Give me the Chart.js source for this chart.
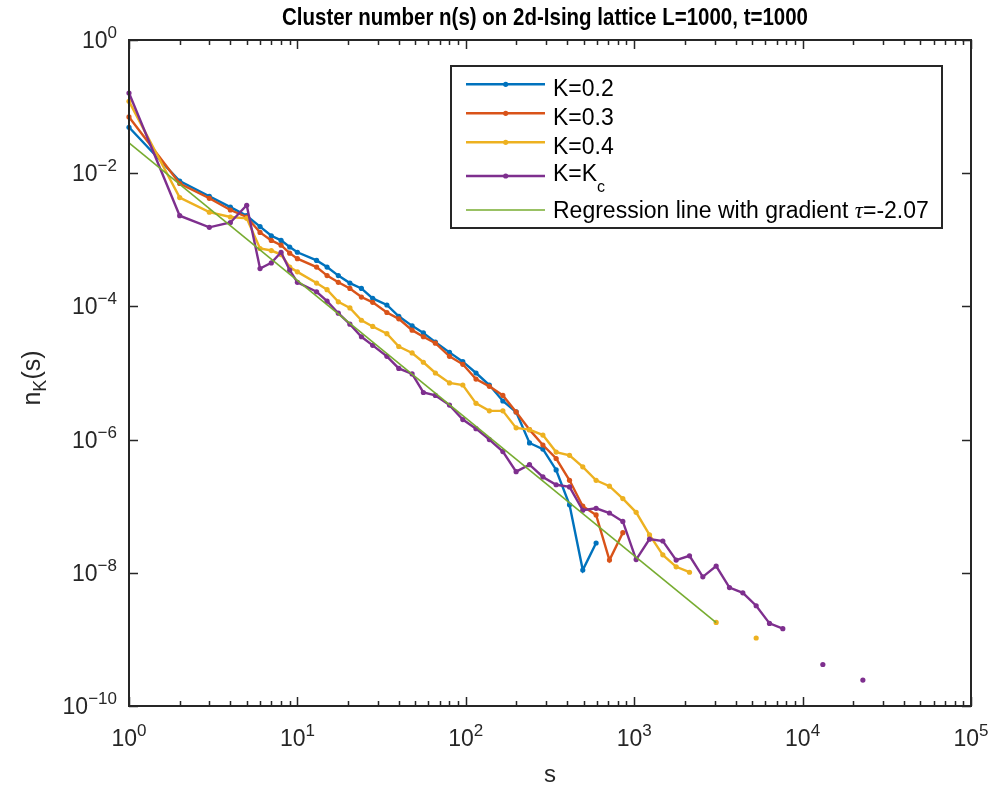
<!DOCTYPE html>
<html>
<head>
<meta charset="utf-8">
<script src="https://cdn.jsdelivr.net/npm/chart.js@4.4.0/dist/chart.umd.min.js"></script>
<style>
  html, body { margin: 0; padding: 0; background: #fff; }
  #wrap { width: 994px; height: 793px; }
</style>
</head>
<body>
<div id="wrap"><canvas id="clusterChart" width="994" height="793"></canvas></div>
<script>
// cluster sizes s (bin positions)
const sizes = [1, 2, 3, 4, 5, 6, 7, 8, 9, 10, 13, 15, 17.5, 20.5, 24, 28, 34, 40, 48, 56,
  66, 80, 96, 115, 138, 166, 199, 239, 287, 344, 413, 495, 594, 713, 856, 1027, 1233,
  1479, 1775, 2130, 2556, 3067, 3680, 4416, 5300, 6360, 7630, 9160, 10990, 13190,
  15830, 19000, 22800];

// n_K(s) for each coupling, null = no cluster of that size
const nK02 = [4.9e-2, 7.6e-3, 4.5e-3, 3.1e-3, 2.3e-3, 1.58e-3, 1.15e-3, 9.8e-4, 7.8e-4, 6.5e-4,
  4.9e-4, 3.9e-4, 2.9e-4, 2.24e-4, 1.86e-4, 1.32e-4, 1.05e-4, 7.1e-5, 5.1e-5, 4.0e-5,
  2.9e-5, 2.04e-5, 1.48e-5, 1.0e-5, 6.6e-6, 3.8e-6, 2.6e-6, 8.9e-7, 7.2e-7, 3.5e-7,
  1.05e-7, 1.1e-8, 2.8e-8];
const nK03 = [7.0e-2, 7.0e-3, 4.2e-3, 2.8e-3, 2.2e-3, 1.29e-3, 9.8e-4, 8.3e-4, 6.3e-4, 5.2e-4,
  3.9e-4, 2.9e-4, 2.3e-4, 1.86e-4, 1.38e-4, 1.15e-4, 8.1e-5, 6.5e-5, 4.4e-5, 3.5e-5,
  2.8e-5, 1.78e-5, 1.35e-5, 8.1e-6, 6.3e-6, 4.6e-6, 2.6e-6, 1.41e-6, 8.3e-7, 5.2e-7,
  2.45e-7, 1.0e-7, 7.4e-8, 1.55e-8, 4.0e-8];
const nK04 = [1.2e-1, 4.3e-3, 2.6e-3, 2.2e-3, 2.1e-3, 7.4e-4, 6.9e-4, 6.0e-4, 3.9e-4, 3.3e-4,
  2.24e-4, 1.78e-4, 1.17e-4, 9.5e-5, 6.2e-5, 5.0e-5, 3.9e-5, 2.5e-5, 2.0e-5, 1.45e-5,
  1.0e-5, 7.1e-6, 6.6e-6, 3.5e-6, 2.7e-6, 2.7e-6, 1.5e-6, 1.41e-6, 1.17e-6, 6.5e-7,
  5.8e-7, 3.9e-7, 2.45e-7, 2.0e-7, 1.3e-7, 8.1e-8, 3.7e-8, 1.86e-8, 1.23e-8, 1.02e-8,
  null, 1.8e-9, null, null, 1.05e-9];
const nKc = [1.6e-1, 2.3e-3, 1.54e-3, 1.82e-3, 3.3e-3, 3.7e-4, 4.5e-4, 6.5e-4, 3.5e-4, 2.3e-4,
  1.66e-4, 1.2e-4, 7.9e-5, 5.4e-5, 3.5e-5, 2.6e-5, 1.78e-5, 1.17e-5, 9.7e-6, 5.1e-6,
  4.6e-6, 3.3e-6, 2.0e-6, 1.46e-6, 1.0e-6, 6.6e-7, 3.3e-7, 4.2e-7, 2.75e-7, 2.1e-7,
  1.95e-7, 8.7e-8, 9.3e-8, 7.9e-8, 5.9e-8, 1.58e-8, 3.2e-8, 3.0e-8, 1.55e-8, 1.8e-8,
  8.7e-9, 1.26e-8, 6.0e-9, 5.0e-9, 3.2e-9, 1.74e-9, 1.45e-9, null, null, 4.2e-10,
  null, null, 2.45e-10];

// regression line end points
const regS = [1, 3067];
const regN = [2.85e-2, 1.78e-9];

const seriesLabels = ["K=0.2", "K=0.3", "K=0.4", "K=K_c", "Regression line with gradient"];
const seriesColors = ["#0072BD", "#D95319", "#EDB120", "#7E2F8E", "#77AC30"];
const xTickExps = [0, 1, 2, 3, 4, 5];
const yTickExps = [0, -2, -4, -6, -8, -10];

const AXIS = "#262626";
const FONT = "'Liberation Sans', Arial, sans-serif";

const pts = (xs, ys) => xs.map((s, i) => ({ x: s, y: ys[i] === undefined ? null : ys[i] }));

const lineSet = (i, data) => ({
  label: seriesLabels[i],
  data: data,
  borderColor: seriesColors[i],
  backgroundColor: seriesColors[i],
  borderWidth: 2.4,
  pointRadius: 2.6,
  pointBorderWidth: 0,
  pointHoverRadius: 0,
  tension: 0,
  spanGaps: false,
  clip: 8,
  order: 5 - i
});

function drawPow(ctx, exp, x, y, align) {
  // "10" with raised exponent, y = baseline of "10"
  ctx.font = "23px " + FONT;
  const wb = ctx.measureText("10").width;
  ctx.font = "17px " + FONT;
  const e = String(exp).replace("-", "\u2212");
  const we = ctx.measureText(e).width;
  const w = wb + we;
  let x0 = x;
  if (align === "center") x0 = x - w / 2;
  if (align === "right") x0 = x - w;
  ctx.textAlign = "left";
  ctx.textBaseline = "alphabetic";
  ctx.font = "23px " + FONT;
  ctx.fillText("10", x0, y);
  ctx.font = "17px " + FONT;
  ctx.fillText(e, x0 + wb, y - 10);
}

const matlabAxes = {
  id: "matlabAxes",
  beforeDraw(chart) {
    const ctx = chart.ctx;
    ctx.save();
    ctx.fillStyle = "#fff";
    ctx.fillRect(0, 0, chart.width, chart.height);
    ctx.restore();
  },
  afterDraw(chart) {
    const ctx = chart.ctx;
    const a = chart.chartArea;
    const xs = chart.scales.x;
    const ys = chart.scales.y;
    ctx.save();
    ctx.strokeStyle = AXIS;
    ctx.fillStyle = AXIS;
    ctx.lineWidth = 1.5;

    // ticks pointing inward, all four sides
    ctx.beginPath();
    for (let d = 0; d <= 5; d++) {
      for (let k = 1; k <= 9; k++) {
        if (d === 5 && k > 1) break;
        const px = Math.round(xs.getPixelForValue(k * Math.pow(10, d))) + 0.5;
        const len = k === 1 ? 9 : 5;
        ctx.moveTo(px, a.bottom); ctx.lineTo(px, a.bottom - len);
        ctx.moveTo(px, a.top); ctx.lineTo(px, a.top + len);
      }
    }
    yTickExps.forEach(e => {
      const py = Math.round(ys.getPixelForValue(Math.pow(10, e))) + 0.5;
      ctx.moveTo(a.left, py); ctx.lineTo(a.left + 9, py);
      ctx.moveTo(a.right, py); ctx.lineTo(a.right - 9, py);
    });
    ctx.stroke();

    // box
    ctx.lineWidth = 2;
    ctx.strokeRect(a.left, a.top, a.right - a.left, a.bottom - a.top);

    // tick labels
    xTickExps.forEach(e => {
      const px = xs.getPixelForValue(Math.pow(10, e));
      drawPow(ctx, e, px, a.bottom + 40, "center");
    });
    yTickExps.forEach(e => {
      const py = ys.getPixelForValue(Math.pow(10, e));
      drawPow(ctx, e, a.left - 12, py + 8, "right");
    });

    // axis labels
    ctx.font = "24px " + FONT;
    ctx.textAlign = "center";
    ctx.fillText("s", (a.left + a.right) / 2, 782);

    ctx.save();
    ctx.translate(40, 378);
    ctx.rotate(-Math.PI / 2);
    ctx.textAlign = "left";
    ctx.font = "25px " + FONT;
    const wn = ctx.measureText("n").width;
    ctx.font = "18px " + FONT;
    const wk = ctx.measureText("K").width;
    ctx.font = "25px " + FONT;
    const wp = ctx.measureText("(s)").width;
    let x0 = -(wn + wk + wp) / 2;
    ctx.fillText("n", x0, 0);
    ctx.font = "18px " + FONT;
    ctx.fillText("K", x0 + wn, 6);
    ctx.font = "25px " + FONT;
    ctx.fillText("(s)", x0 + wn + wk, 0);
    ctx.restore();

    // title
    ctx.save();
    ctx.fillStyle = "#000";
    ctx.font = "bold 24px " + FONT;
    const title = "Cluster number n(s) on 2d-Ising lattice L=1000, t=1000";
    const tw = ctx.measureText(title).width;
    const sx = 526 / tw;
    ctx.translate(545, 25);
    ctx.scale(sx, 1);
    ctx.textAlign = "center";
    ctx.fillText(title, 0, 0);
    ctx.restore();

    // legend
    const lx = 451, ly = 66, lw = 491, lh = 162;
    ctx.fillStyle = "#fff";
    ctx.fillRect(lx, ly, lw, lh);
    ctx.strokeStyle = AXIS;
    ctx.lineWidth = 2;
    ctx.strokeRect(lx, ly, lw, lh);
    const rowY = [84.3, 113.3, 142.3, 176, 210];
    rowY.forEach((y, i) => {
      ctx.strokeStyle = seriesColors[i];
      ctx.lineWidth = i === 4 ? 1.6 : 2.4;
      ctx.beginPath();
      ctx.moveTo(466, y); ctx.lineTo(545, y);
      ctx.stroke();
      if (i < 4) {
        ctx.fillStyle = seriesColors[i];
        ctx.beginPath();
        ctx.arc(505.7, y, 2.6, 0, Math.PI * 2);
        ctx.fill();
      }
    });
    ctx.fillStyle = "#000";
    ctx.textAlign = "left";
    ctx.font = "23px " + FONT;
    for (let i = 0; i < 3; i++) ctx.fillText(seriesLabels[i], 553, rowY[i] + 11.4);
    ctx.fillText("K=K", 553, 180.7);
    const wkk = ctx.measureText("K=K").width;
    ctx.font = "16px " + FONT;
    ctx.fillText("c", 553 + wkk, 191.7);
    ctx.font = "23px " + FONT;
    const reg = seriesLabels[4] + " ";
    ctx.fillText(reg, 553, 218);
    let rx = 553 + ctx.measureText(reg).width;
    ctx.font = "italic 23px 'Liberation Serif', serif";
    ctx.fillText("\u03C4", rx, 218);
    rx += ctx.measureText("\u03C4").width;
    ctx.font = "23px " + FONT;
    ctx.fillText("=-2.07", rx, 218);

    ctx.restore();
  }
};

new Chart(document.getElementById("clusterChart"), {
  type: "line",
  data: {
    datasets: [
      lineSet(0, pts(sizes, nK02)),
      lineSet(1, pts(sizes, nK03)),
      lineSet(2, pts(sizes, nK04)),
      lineSet(3, pts(sizes, nKc)),
      {
        label: seriesLabels[4],
        data: pts(regS, regN),
        borderColor: seriesColors[4],
        backgroundColor: seriesColors[4],
        borderWidth: 1.6,
        pointRadius: 0,
        pointHoverRadius: 0,
        tension: 0,
        clip: 8,
        order: 0
      }
    ]
  },
  options: {
    responsive: false,
    animation: false,
    devicePixelRatio: 1,
    events: [],
    layout: {
      padding: { left: 129, right: 23, top: 40, bottom: 87 }
    },
    plugins: {
      legend: { display: false },
      title: { display: false },
      tooltip: { enabled: false }
    },
    scales: {
      x: { type: "logarithmic", min: 1, max: 1e5, display: false },
      y: { type: "logarithmic", min: 1e-10, max: 1, display: false }
    }
  },
  plugins: [matlabAxes]
});
</script>
</body>
</html>
